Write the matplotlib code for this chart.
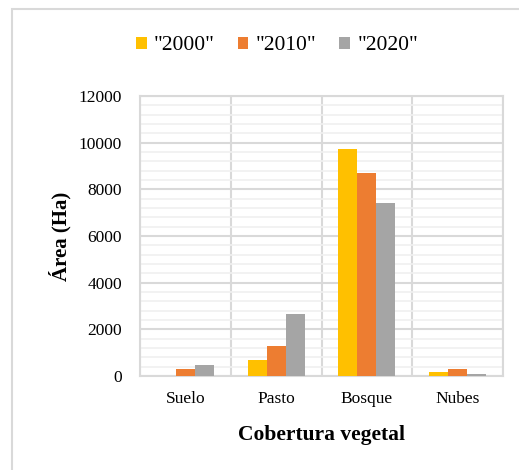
import matplotlib.pyplot as plt
import numpy as np
from matplotlib.patches import Rectangle
from matplotlib.ticker import MultipleLocator

# Superficie por cobertura vegetal (Ha)
categorias = ['Suelo', 'Pasto', 'Bosque', 'Nubes']
anios = ['"2000"', '"2010"', '"2020"']
area_2000 = [0, 680, 9750, 170]
area_2010 = [290, 1280, 8700, 290]
area_2020 = [460, 2650, 7400, 70]
colores = ['#ffc000', '#ed7d31', '#a5a5a5']

plt.rcParams['font.family'] = ['Liberation Serif', 'DejaVu Serif']

fig = plt.figure(figsize=(5.19, 4.70), dpi=100)
W, H = 519, 470
ax = fig.add_axes([140 / W, 1 - 376 / H, 363 / W, 280 / H])

# Marco exterior del gráfico
fig.patches.append(Rectangle((11.5 / W, -0.05), 1.2, 1 - 8.5 / H + 0.05,
                             transform=fig.transFigure, fill=False,
                             edgecolor='#d9d9d9', linewidth=1.5))

x = np.arange(len(categorias))
ancho = 0.21
series = [area_2000, area_2010, area_2020]
for i, valores in enumerate(series):
    ax.bar(x + (i - 1) * ancho, valores, ancho, color=colores[i],
           label=anios[i], zorder=3)

ax.set_xlim(-0.5, 3.5)
ax.set_ylim(0, 12000)
ax.yaxis.set_major_locator(MultipleLocator(2000))
ax.yaxis.set_minor_locator(MultipleLocator(400))
ax.set_xticks(x)
ax.set_xticklabels(categorias)
ax.set_xticks(np.arange(-0.5, 4, 1), minor=True)

ax.grid(which='major', axis='y', color='#d9d9d9', linewidth=1.5, zorder=0)
ax.grid(which='minor', axis='y', color='#f0f0f0', linewidth=1.2, zorder=0)
ax.grid(which='minor', axis='x', color='#d9d9d9', linewidth=1.5, zorder=0)
for s in ax.spines.values():
    s.set_color('#d9d9d9')
    s.set_linewidth(1.5)

ax.tick_params(which='both', length=0)
ax.tick_params(axis='y', labelsize=12.5, pad=13)
ax.tick_params(axis='x', labelsize=12.5, pad=11)

ax.set_xlabel('Cobertura vegetal', fontsize=15.5, fontweight='bold', labelpad=13)
ax.set_ylabel('Área (Ha)', fontsize=15, fontweight='bold', labelpad=5)

fig.legend(loc='center', bbox_to_anchor=(277 / W, 1 - 46 / H), ncol=3,
           frameon=False, fontsize=15.5, handlelength=0.5, handleheight=0.5,
           handletextpad=0.35, columnspacing=1.05)

fig.savefig('out.png', dpi=100)
